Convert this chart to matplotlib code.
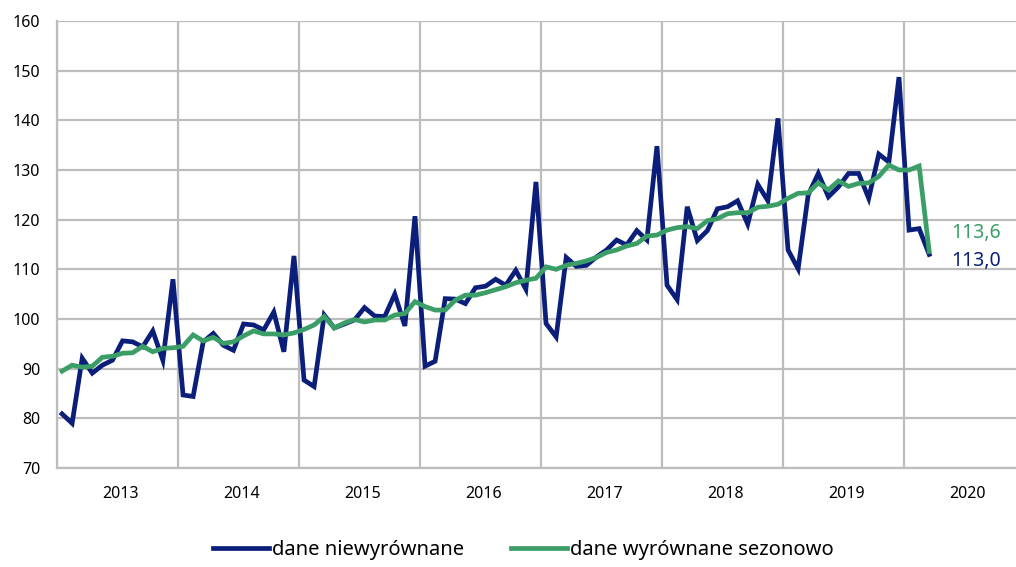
import numpy as np
import matplotlib
matplotlib.use("Agg")
from matplotlib import pyplot as plt

# dane miesieczne od 01.2013 do 03.2020
lata = ["2013", "2014", "2015", "2016", "2017", "2018", "2019", "2020"]

niewyrownane = [
    80.9, 79.0, 92.1, 89.1, 90.7, 91.7, 95.6, 95.4, 94.4, 97.6, 91.7, 108.0,
    84.7, 84.4, 95.4, 97.1, 94.7, 93.7, 99.0, 98.8, 97.8, 101.4, 93.4, 112.7,
    87.7, 86.4, 100.8, 98.2, 99.0, 99.8, 102.3, 100.6, 100.5, 105.0, 98.6, 120.7,
    90.5, 91.5, 104.1, 104.0, 103.1, 106.3, 106.6, 108.0, 106.8, 109.8, 106.0, 127.6,
    99.1, 96.4, 112.4, 110.6, 110.8, 112.5, 113.9, 115.9, 114.9, 117.8, 115.9, 134.8,
    106.8, 103.9, 122.6, 115.8, 117.8, 122.2, 122.6, 123.8, 119.1, 127.1, 123.8, 140.4,
    113.9, 110.1, 125.0, 129.3, 124.6, 126.6, 129.3, 129.3, 124.3, 133.2, 131.6, 148.7,
    117.9, 118.2, 113.0,
]

wyrownane = [
    89.5, 90.7, 90.3, 90.5, 92.3, 92.5, 93.1, 93.2, 94.5, 93.4, 94.1, 94.2,
    94.5, 96.8, 95.6, 96.3, 95.1, 95.4, 96.6, 97.6, 97.0, 97.0, 96.8, 97.2,
    97.9, 98.8, 100.5, 98.2, 99.2, 99.9, 99.4, 99.8, 99.8, 100.8, 101.1, 103.5,
    102.5, 101.8, 101.8, 103.8, 104.8, 104.8, 105.3, 105.9, 106.5, 107.3, 107.8, 108.2,
    110.5, 110.0, 110.8, 111.2, 111.7, 112.4, 113.4, 113.9, 114.7, 115.2, 116.7, 116.9,
    117.9, 118.4, 118.6, 118.2, 119.8, 120.2, 121.2, 121.4, 121.4, 122.5, 122.7, 123.1,
    124.3, 125.3, 125.4, 127.4, 126.0, 127.8, 126.7, 127.3, 127.4, 128.7, 131.0, 130.0,
    130.0, 130.8, 113.6,
]

granatowy = "#0B1F7A"
zielony = "#3A9E66"

plt.rcParams["font.family"] = ["Noto Sans", "DejaVu Sans"]

fig = plt.figure(figsize=(10.16, 5.67), dpi=100)
ax = fig.add_axes([57 / 1016, 1 - 468 / 567, (1025 - 57) / 1016, (468 - 21) / 567])

x = np.arange(len(niewyrownane))
ax.plot(x, niewyrownane, color=granatowy, lw=3.4, solid_joinstyle="miter",
        label="dane niewyrównane", zorder=3)
ax.plot(x, wyrownane, color=zielony, lw=3.4, solid_joinstyle="miter",
        label="dane wyrównane sezonowo", zorder=4)

ax.set_xlim(-0.5, 95.5)
ax.set_ylim(70, 160)
ax.set_yticks(np.arange(70, 161, 10))

# granice lat jako glowne podzialki, podpisy lat w srodku roku
ax.set_xticks(np.arange(-0.5, 96, 12))
ax.set_xticklabels([])
ax.set_xticks(np.arange(5.8, 96, 12), minor=True)
ax.set_xticklabels(lata, minor=True)
ax.tick_params(axis="x", which="both", length=0, pad=13, labelsize=11.5)
ax.tick_params(axis="y", length=0, pad=12, labelsize=11.5)

ax.grid(True, which="major", color="#BDBDBD", lw=1.6)
ax.set_axisbelow(True)
for s in ["top", "right"]:
    ax.spines[s].set_visible(False)
for s in ["left", "bottom"]:
    ax.spines[s].set_color("#BDBDBD")
    ax.spines[s].set_linewidth(1.6)

ax.text(len(x) + 1.2, wyrownane[-1] + 3.8, "113,6", color=zielony, fontsize=14,
        va="center", ha="left")
ax.text(len(x) + 1.2, niewyrownane[-1] - 1.4, "113,0", color=granatowy, fontsize=14,
        va="center", ha="left")

fig.legend(loc="center", bbox_to_anchor=(0.515, 0.03), ncol=2, frameon=False,
           fontsize=14.5, handlelength=2.8, handletextpad=0.15, columnspacing=2.3)

fig.savefig("out.png", dpi=100)
